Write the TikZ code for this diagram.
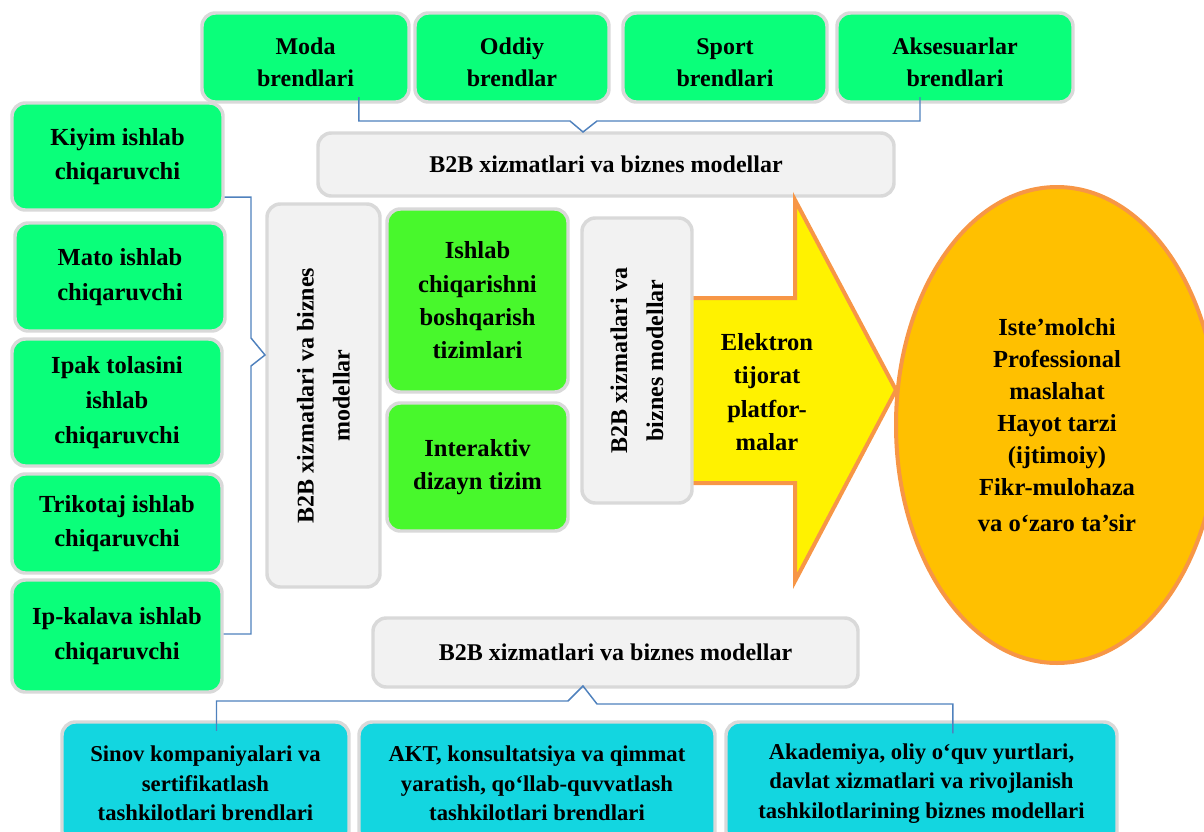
\documentclass[tikz,border=0pt]{standalone}
\usepackage{fontspec}
\setmainfont{Liberation Serif}
\usetikzlibrary{shapes.geometric}
\definecolor{gA}{RGB}{10,255,122}
\definecolor{gB}{RGB}{72,248,44}
\definecolor{grf}{RGB}{242,242,242}
\definecolor{grb}{RGB}{217,217,217}
\definecolor{cyf}{RGB}{19,214,224}
\definecolor{orb}{RGB}{247,150,70}
\definecolor{ellf}{RGB}{255,192,0}
\definecolor{blu}{RGB}{79,129,189}
\newcommand\bx[7]{\node[#6, minimum width={0.75pt*(#4-#2)}, minimum height={0.75pt*(#5-#3)}] (#1) at ({(#2+#4)/2},{(#3+#5)/2}) {#7};}
\newcommand\vbx[7]{\node[#6, rotate=90, minimum width={0.75pt*(#5-#3)}, minimum height={0.75pt*(#4-#2)}] (#1) at ({(#2+#4)/2},{(#3+#5)/2}) {#7};}
\begin{document}
\begin{tikzpicture}[x=0.75pt,y=-0.75pt,
  box/.style={draw=grb, line width=2.6pt, rounded corners=10pt, inner sep=2pt, align=center, text=black},
  boxA/.style={box, fill=gA},
  toplbl/.style={align=center, yshift=-3.75pt, font=\bfseries\fontsize{18}{24}\selectfont},
  boxL/.style={box, fill=gA, font=\bfseries\fontsize{18.4}{26}\selectfont},
  boxB/.style={box, fill=gB, font=\bfseries\fontsize{18.4}{25}\selectfont},
  boxG/.style={box, fill=grf, font=\bfseries\fontsize{18}{27}\selectfont},
  boxC/.style={box, fill=cyf, font=\bfseries\fontsize{17}{22}\selectfont},
  brace/.style={draw=blu, line width=1.1pt},
  arrowst/.style={fill=yellow, draw=orb, line width=3pt, line join=miter},
  ellst/.style={ellipse, draw=orb, fill=ellf, line width=3pt, inner sep=0pt, align=center,
    font=\bfseries\fontsize{18.4}{24}\selectfont}]
\path[use as bounding box, clip] (0,0) rectangle (1204,832);

% top row
\bx{moda}{202}{13}{409}{102}{boxA, label={[toplbl]center:{Moda\\brendlari}}}{}
\bx{oddiy}{415}{13}{609}{102}{boxA, label={[toplbl]center:{Oddiy\\brendlar}}}{}
\bx{sport}{623}{13}{827}{102}{boxA, label={[toplbl]center:{Sport\\brendlari}}}{}
\bx{aks}{837}{13}{1073}{102}{boxA, label={[toplbl]center:{Aksesuarlar\\brendlari}}}{}
\bx{tb}{318}{133}{894}{196}{boxG}{B2B xizmatlari va biznes modellar}

% left column
\bx{kiyim}{12}{103}{223}{210}{boxL}{Kiyim ishlab\\chiqaruvchi}
\bx{mato}{15}{223}{225}{331}{boxL}{Mato ishlab\\chiqaruvchi}
\bx{ipak}{12}{339}{222}{466}{boxL}{Ipak tolasini\\ishlab\\chiqaruvchi}
\bx{trik}{12}{474}{222}{573}{boxL}{Trikotaj ishlab\\chiqaruvchi}
\bx{ipk}{12}{580}{222}{692}{boxL}{Ip-kalava ishlab\\chiqaruvchi}

% arrow
\draw[arrowst] (685,298) -- (795,298) -- (795,200) -- (896,390) -- (795,581) -- (795,483) -- (685,483) -- cycle;
\node[align=center, font=\bfseries\fontsize{18.4}{25}\selectfont] (elek) at (767,392) {Elektron\\tijorat\\platfor-\\malar};

% middle
\vbx{vb1}{267}{204}{380}{587}{boxG}{B2B xizmatlari va biznes\\modellar}
\bx{ishlab}{387}{209}{568}{392}{boxB}{Ishlab\\chiqarishni\\boshqarish\\tizimlari}
\bx{inter}{387}{403}{568}{531}{boxB}{Interaktiv\\dizayn tizim}
\vbx{vb2}{582}{218}{692}{503}{boxG}{B2B xizmatlari va\\biznes modellar}

% ellipse
\node[ellst, minimum width={0.75pt*322}, minimum height={0.75pt*476}] (cons) at (1057,425)
  {Iste’molchi\\Professional\\maslahat\\Hayot tarzi\\(ijtimoiy)\\Fikr-mulohaza\\[3pt]va o‘zaro ta’sir};

% bottom
\bx{bb}{373}{618}{858}{687}{boxG}{B2B xizmatlari va biznes modellar}
\bx{sinov}{62}{722}{349}{845}{boxC}{Sinov kompaniyalari va\\sertifikatlash\\tashkilotlari brendlari}
\bx{akt}{359}{722}{715}{845}{boxC}{AKT, konsultatsiya va qimmat\\yaratish, qo‘llab-quvvatlash\\tashkilotlari brendlari}
\bx{akad}{726}{722}{1117}{845}{boxC}{Akademiya, oliy o‘quv yurtlari,\\davlat xizmatlari va rivojlanish\\tashkilotlarining biznes modellari}

% braces
\draw[brace] ([xshift=40.1pt,yshift=5pt]moda.south) |- (570,121) -- (583,132) -- (597,121) -| ([xshift=-26.25pt,yshift=5pt]aks.south);
\draw[brace] ([yshift=-30.4pt]kiyim.east) -| (251,338) -- (265,355) -- (251,366) |- ([yshift=1.5pt]ipk.east);
\draw[brace] ([xshift=8.25pt,yshift=-8pt]sinov.north) |- (568,701) -- (583,686) -- (597,704) -| ([xshift=23.6pt,yshift=-9.75pt]akad.north);
\end{tikzpicture}
\end{document}
